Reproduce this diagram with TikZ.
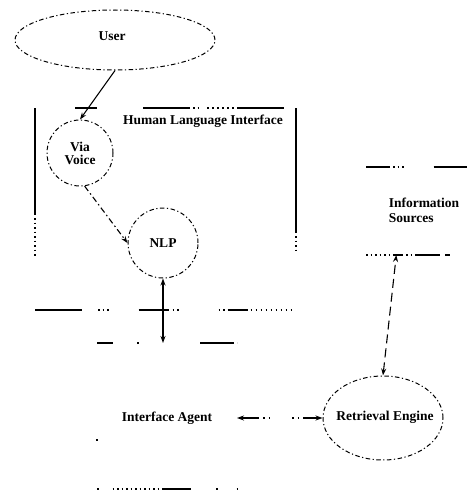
\documentclass[tikz,border=0pt]{standalone}
\usepackage{fontspec}
\setmainfont{Liberation Serif}
\usetikzlibrary{arrows.meta,shapes.geometric,calc}
\begin{document}
\begin{tikzpicture}[x=1pt,y=-1pt,
  lbl/.style={font=\fontsize{13.5}{14}\selectfont\bfseries, inner sep=0pt},
  dd/.style={draw, line width=1pt, dash pattern=on 4.5pt off 2.5pt on 1.2pt off 2.5pt},
  edgeline/.style={line width=1.3pt},
  boxnode/.style={inner sep=0pt, outer sep=0pt},
  conn/.style={line width=1.1pt},
  tipone/.style={-{Stealth[length=7pt,width=5pt]}},
  tiptwo/.style={{Stealth[length=7pt,width=5pt]}-{Stealth[length=7pt,width=5pt]}}
]
\useasboundingbox (0,0) rectangle (469,495);

% User
\node[dd, ellipse, minimum width=200pt, minimum height=60pt, inner sep=0pt] (user) at (115,40) {};
\node[lbl] (usert) at (112,36) {User};

% Human Language Interface box
\node[boxnode, minimum width=261pt, minimum height=202pt] (hli) at (165.5,209) {};
\draw[edgeline, dash pattern=on 0pt off 40pt on 22pt off 46pt on 47pt off 3pt on 1.5pt off 3pt on 1.5pt off 8pt on 1.5pt off 3.5pt on 1.5pt off 3.5pt on 1.5pt off 3.5pt on 1.5pt off 3.5pt on 1.5pt off 3.5pt on 1.5pt off 3.5pt on 47pt off 40pt]
  (hli.north west) -- (hli.north east);
\draw[edgeline, dash pattern=on 107pt off 3pt on 1.5pt off 3pt on 1.5pt off 3pt on 1.5pt off 3pt on 1.5pt off 3pt on 1.5pt off 3pt on 1.5pt off 3pt on 1.5pt off 3pt on 1.5pt off 3pt on 1.5pt off 60pt]
  (hli.north west) -- (hli.south west);
\draw[edgeline, dash pattern=on 125pt off 3pt on 1.5pt off 3pt on 1.5pt off 3pt on 1.5pt off 3pt on 1.5pt off 70pt]
  (hli.north east) -- (hli.south east);
\draw[edgeline, dash pattern=on 47pt off 16pt on 1.5pt off 3pt on 1.5pt off 3pt on 1.5pt off 30pt on 30pt off 4pt on 1.5pt off 3pt on 1.5pt off 40pt on 1.5pt off 3pt on 1.5pt off 3pt on 20pt off 3pt on 1.5pt off 3.5pt on 1.5pt off 3.5pt on 1.5pt off 3.5pt on 1.5pt off 3.5pt on 1.5pt off 3.5pt on 1.5pt off 3.5pt on 1.5pt off 3.5pt on 1.5pt off 3.5pt on 1.5pt off 20pt]
  (hli.south west) -- (hli.south east);
\node[lbl] (hlit) at (203,121) {Human Language Interface};

% Via Voice and NLP
\node[dd, circle, minimum size=66pt, inner sep=0pt, lbl, align=center, font=\fontsize{13.5}{13}\selectfont\bfseries] (vv) at (80,153) {Via\\Voice};
\node[dd, circle, minimum size=70pt, inner sep=0pt, lbl] (nlp) at (163,243) {NLP};

% Interface Agent box
\node[boxnode, minimum width=140pt, minimum height=146pt] (ia) at (167,416) {};
\draw[edgeline, dash pattern=on 16pt off 24pt on 2pt off 61pt on 34pt off 3pt on 1.5pt off 10pt]
  (ia.north west) -- (ia.north east);
\draw[edgeline, dash pattern=on 1.5pt off 14pt on 1.5pt off 3pt on 1.5pt off 3pt on 1.5pt off 3pt on 1.5pt off 3pt on 1.5pt off 3pt on 1.5pt off 3pt on 1.5pt off 3pt on 1.5pt off 3pt on 1.5pt off 3pt on 1.5pt off 3pt on 1.5pt off 3pt on 29pt off 25pt on 1.5pt off 19pt on 1.5pt off 10pt]
  (ia.south west) -- (ia.south east);
\draw[edgeline, dash pattern=on 0pt off 96pt on 2pt off 60pt]
  (ia.north west) -- (ia.south west);
\node[lbl] (iat) at (167,418) {Interface Agent};

% Retrieval Engine
\node[dd, ellipse, minimum width=120pt, minimum height=84pt, inner sep=0pt] (re) at (383,418) {};
\node[lbl] (ret) at (385,417) {Retrieval Engine};

% Information Sources box
\node[boxnode, minimum width=101pt, minimum height=88pt] (isbox) at (416.5,211) {};
\draw[edgeline, dash pattern=on 24pt off 3pt on 1.5pt off 3pt on 1.5pt off 3pt on 1.5pt off 30pt on 40pt off 10pt]
  (isbox.north west) -- (isbox.north east);
\draw[edgeline, dash pattern=on 1.5pt off 3pt on 1.5pt off 3pt on 1.5pt off 3pt on 1.5pt off 3pt on 1.5pt off 3pt on 1.5pt off 3pt on 10pt off 3pt on 1.5pt off 3pt on 1.5pt off 3pt on 25pt off 5pt on 5pt off 30pt]
  (isbox.south west) -- (isbox.south east);
\node[lbl, align=left, font=\fontsize{13.5}{15}\selectfont\bfseries] (ist) at (424,210) {Information\\Sources};

% Connectors
\draw[conn, tipone] (user.south) -- (vv.north);
\draw[conn, tipone, dash pattern=on 6pt off 3pt on 1.5pt off 3pt] (vv.-82) -- (nlp.west);
\draw[conn, tiptwo] (nlp.south) -- (nlp.south |- ia.north);
\draw[conn, tiptwo, dash pattern=on 18pt off 4pt on 1.5pt off 4pt on 1.5pt off 22pt on 1.5pt off 4pt on 1.5pt off 4pt on 30pt] (ia.east |- re.west) -- (re.west);
\draw[conn, tiptwo, dash pattern=on 9pt off 5pt] (re.north) -- ($(isbox.south west)!0.3!(isbox.south east)$);
\end{tikzpicture}
\end{document}
